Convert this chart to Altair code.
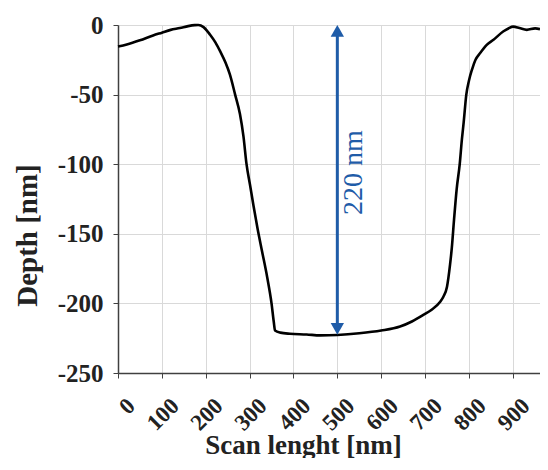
import altair as alt
import pandas as pd

# Profile data
scan_x = [0, 20, 50, 80, 100, 120, 141, 160, 175, 183, 195, 210, 222, 233, 245, 255, 267, 278,
          286, 293, 301, 309, 318, 328, 340, 350, 355, 358, 370, 392, 430, 461, 500, 550, 600,
          643, 670, 696, 715, 734, 742, 750, 757, 761, 766, 772, 779, 784, 788, 794, 800, 807,
          815, 826, 840, 856, 878, 890, 901, 915, 932, 951, 962]
depth = [-15.5, -14, -11, -7.5, -5.5, -3.5, -2.2, -0.8, -0.1, 0, -1.5, -7, -12.5, -19, -27,
         -35.5, -50, -64, -80, -100, -115, -130, -146, -162, -181, -200, -213, -219.5, -221,
         -221.8, -222.3, -223, -222.7, -221.5, -219.5, -216.6, -213, -208.3, -204.5, -199,
         -195, -188, -172, -160, -140, -118, -100, -82, -70, -50, -40, -32, -25, -20, -14.5,
         -10.6, -4.7, -2.5, -1.2, -2.2, -3.5, -2.4, -3.0]

x_ticks = [0, 100, 200, 300, 400, 500, 600, 700, 800, 900]
y_ticks = [0, -50, -100, -150, -200, -250]

arrow_x = [500]
arrow_top = [0]
arrow_bottom = [-222.5]
arrow_label = ["220 nm"]
label_x = [538]
label_y = [-106]

BLUE = "#1f5ca8"
FONT = "Liberation Serif"

df = pd.DataFrame({"x": scan_x, "y": depth})
arr = pd.DataFrame({"x": arrow_x, "top": arrow_top, "bottom": arrow_bottom,
                    "rule_top": [arrow_top[0] - 4], "rule_bottom": [arrow_bottom[0] + 4]})
lab = pd.DataFrame({"x": label_x, "y": label_y, "t": arrow_label})

xscale = alt.Scale(domain=[0, 962], nice=False, zero=False)
yscale = alt.Scale(domain=[-250, 0], nice=False)

xaxis = alt.Axis(values=x_ticks, title="Scan lenght [nm]", labelAngle=-45,
                 labelAlign="right", labelBaseline="middle", labelPadding=24, labelOffset=13,
                 labelExpr="'' + datum.value",
                 labelFont=FONT, labelFontSize=23, labelFontWeight="bold", labelColor="#222222",
                 titleFont=FONT, titleFontSize=27, titleFontWeight="bold", titleColor="#222222",
                 titleX=185, titleY=80, titleAlign="center", titleBaseline="alphabetic",
                 tickSize=5, tickColor="#404040", domainColor="#404040", domainWidth=1.5,
                 gridColor="#d9d9d9", labelOverlap=False)
yaxis = alt.Axis(values=y_ticks, title="Depth [nm]",
                 labelExpr="'' + datum.value",
                 labelFont=FONT, labelFontSize=25, labelFontWeight="bold", labelColor="#222222",
                 labelPadding=10, labelBaseline="middle",
                 titleFont=FONT, titleFontSize=29, titleFontWeight="bold", titleColor="#222222",
                 titleX=-82, titleY=210, titleAngle=-90, titleAlign="center",
                 titleBaseline="alphabetic",
                 tickSize=5, tickColor="#404040", domainColor="#404040", domainWidth=1.5,
                 gridColor="#d9d9d9", labelOverlap=False)

line = alt.Chart(df).mark_line(color="black", strokeWidth=2.6, interpolate="monotone").encode(
    x=alt.X("x:Q", scale=xscale, axis=xaxis),
    y=alt.Y("y:Q", scale=yscale, axis=yaxis),
)

rule = alt.Chart(arr).mark_rule(color=BLUE, strokeWidth=3).encode(
    x="x:Q", y="rule_top:Q", y2="rule_bottom:Q"
)
head_up = alt.Chart(arr).mark_point(shape="M0,0 L-0.57,1 L0.57,1 Z", size=548, filled=True,
                                    color=BLUE, opacity=1, strokeWidth=0).encode(
    x="x:Q", y="top:Q"
)
head_down = alt.Chart(arr).mark_point(shape="M0,0 L-0.57,-1 L0.57,-1 Z", size=548, filled=True,
                                      color=BLUE, opacity=1, strokeWidth=0).encode(
    x="x:Q", y="bottom:Q"
)
text = alt.Chart(lab).mark_text(angle=270, font=FONT, fontSize=28, color=BLUE,
                                align="center", baseline="middle").encode(
    x="x:Q", y="y:Q", text="t:N"
)

chart = alt.layer(line, rule, head_up, head_down, text).properties(
    width=422, height=348,
    autosize=alt.AutoSizeParams(type="none"),
    padding={"left": 110, "top": 17, "right": 0, "bottom": 85},
).configure_view(stroke=None).configure_axis(gridWidth=1)

chart.save("out.html", embed_options={"renderer": "svg", "actions": False})
